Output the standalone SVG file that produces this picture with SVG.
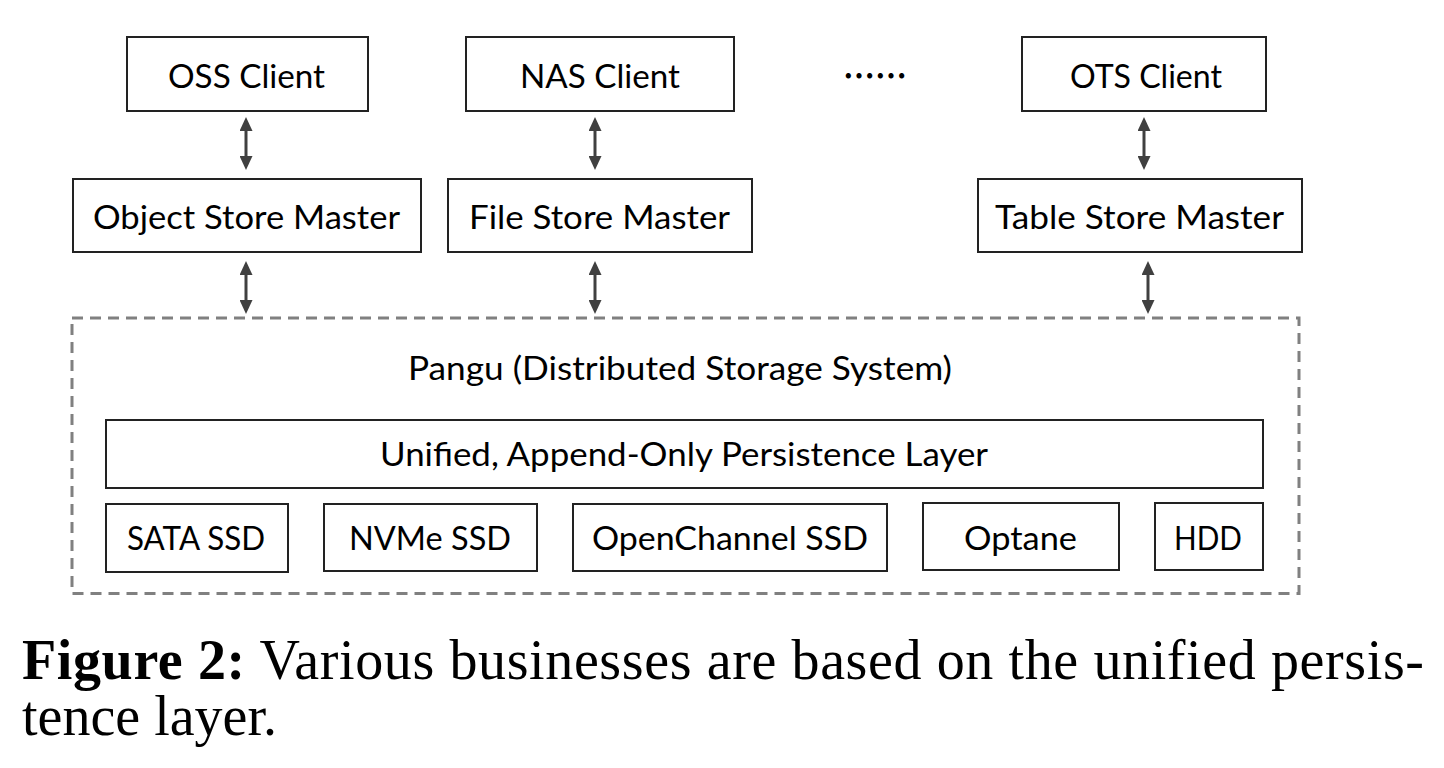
<svg xmlns="http://www.w3.org/2000/svg" width="1444" height="768" viewBox="0 0 1444 768">
<style>
.box{fill:#fff;stroke:#222;stroke-width:2}
.lbl{font-family:Lato,"Open Sans","Liberation Sans",sans-serif;font-size:32px;fill:#000;text-anchor:middle}
.conn line{stroke:#404040;stroke-width:3;marker-start:url(#ah);marker-end:url(#ah)}
.dash{fill:none;stroke:#808080;stroke-width:3;stroke-dasharray:11 7}
.cap{font-family:"Liberation Serif","Times New Roman",serif;font-size:56px;fill:#000}
</style>
<defs>
<marker id="ah" viewBox="0 0 14 13" refX="4" refY="6.5" markerWidth="14" markerHeight="13" markerUnits="userSpaceOnUse" orient="auto-start-reverse">
<path d="M0,0 L14,6.5 L0,13 z" fill="#404040"/>
</marker>
</defs>
<rect width="1444" height="768" fill="#fff"/>

<g id="pangu">
<rect class="dash" x="72" y="318" width="1227" height="275.5"/>
<text class="lbl" x="680" y="380" textLength="544" lengthAdjust="spacingAndGlyphs">Pangu (Distributed Storage System)</text>
</g>

<g id="oss-client"><rect class="box" x="127" y="37" width="241" height="74"/><text class="lbl" x="246.5" y="88" textLength="157" lengthAdjust="spacingAndGlyphs">OSS Client</text></g>
<g id="nas-client"><rect class="box" x="466" y="37" width="268" height="74"/><text class="lbl" x="600" y="88" textLength="160" lengthAdjust="spacingAndGlyphs">NAS Client</text></g>
<g id="ellipsis"><text x="875" y="89" text-anchor="middle" style="font-family:'Noto Sans CJK SC',sans-serif;font-size:34px;font-weight:bold;fill:#000" textLength="64" lengthAdjust="spacingAndGlyphs">……</text></g>
<g id="ots-client"><rect class="box" x="1022" y="37" width="244" height="74"/><text class="lbl" x="1146" y="88" textLength="152" lengthAdjust="spacingAndGlyphs">OTS Client</text></g>

<g id="object-store-master"><rect class="box" x="73" y="179" width="348" height="73"/><text class="lbl" x="246.5" y="229" textLength="307" lengthAdjust="spacingAndGlyphs">Object Store Master</text></g>
<g id="file-store-master"><rect class="box" x="448" y="179" width="304" height="73"/><text class="lbl" x="599.5" y="229" textLength="261" lengthAdjust="spacingAndGlyphs">File Store Master</text></g>
<g id="table-store-master"><rect class="box" x="978" y="179" width="324" height="73"/><text class="lbl" x="1139.5" y="229" textLength="289" lengthAdjust="spacingAndGlyphs">Table Store Master</text></g>

<g id="persistence-layer"><rect class="box" x="106" y="420" width="1157" height="68"/><text class="lbl" x="684" y="466" textLength="608" lengthAdjust="spacingAndGlyphs">Unified, Append-Only Persistence Layer</text></g>

<g id="sata-ssd"><rect class="box" x="106" y="504" width="182" height="68"/><text class="lbl" x="196" y="550" textLength="138" lengthAdjust="spacingAndGlyphs">SATA SSD</text></g>
<g id="nvme-ssd"><rect class="box" x="324" y="504" width="213" height="67"/><text class="lbl" x="430" y="550" textLength="162" lengthAdjust="spacingAndGlyphs">NVMe SSD</text></g>
<g id="openchannel-ssd"><rect class="box" x="573" y="504" width="314" height="67"/><text class="lbl" x="730" y="550" textLength="276" lengthAdjust="spacingAndGlyphs">OpenChannel SSD</text></g>
<g id="optane"><rect class="box" x="923" y="503" width="196" height="67"/><text class="lbl" x="1020.5" y="550" textLength="113" lengthAdjust="spacingAndGlyphs">Optane</text></g>
<g id="hdd"><rect class="box" x="1155" y="503" width="108" height="67"/><text class="lbl" x="1208" y="550" textLength="68" lengthAdjust="spacingAndGlyphs">HDD</text></g>

<g id="connectors" class="conn">
<line x1="246" y1="127" x2="246" y2="160"/>
<line x1="246" y1="271" x2="246" y2="304"/>
<line x1="595" y1="127" x2="595" y2="160"/>
<line x1="595" y1="271" x2="595" y2="304"/>
<line x1="1144" y1="127" x2="1144" y2="160"/>
<line x1="1148" y1="271" x2="1148" y2="304"/>
</g>

<g id="caption">
<text class="cap" x="22" y="679" textLength="1402" lengthAdjust="spacing"><tspan font-weight="bold">Figure 2:</tspan> Various businesses are based on the unified persis-</text>
<text class="cap" x="22" y="735">tence layer.</text>
</g>
</svg>
